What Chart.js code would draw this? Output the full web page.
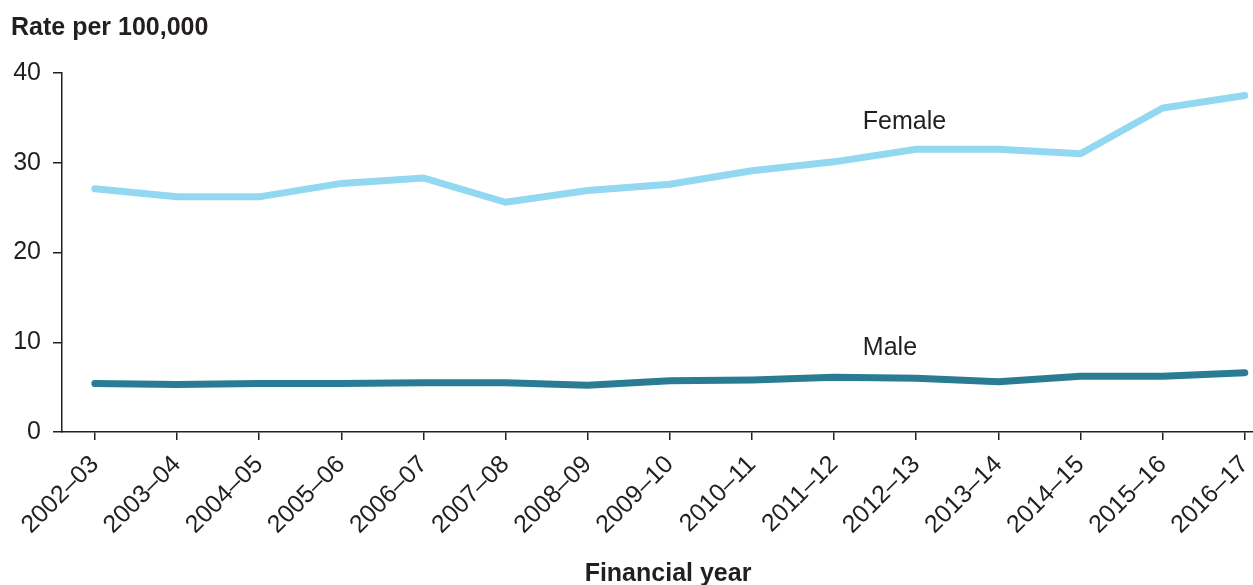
<!DOCTYPE html>
<html>
<head>
<meta charset="utf-8">
<script src="https://cdn.jsdelivr.net/npm/chart.js@4"></script>
<style>
  html, body { margin: 0; padding: 0; background: #fff; }
  #wrap { width: 1253px; height: 585px; }
</style>
</head>
<body>
<div id="wrap"><canvas id="chart" width="1253" height="585"></canvas></div>
<script>
const years = ["2002–03", "2003–04", "2004–05", "2005–06", "2006–07", "2007–08", "2008–09",
  "2009–10", "2010–11", "2011–12", "2012–13", "2013–14", "2014–15", "2015–16", "2016–17"];
const female = [27.1, 26.2, 26.2, 27.7, 28.3, 25.6, 26.9, 27.6, 29.1, 30.1, 31.5, 31.5, 31.0, 36.1, 37.5];
const male = [5.4, 5.3, 5.4, 5.4, 5.5, 5.5, 5.2, 5.7, 5.8, 6.1, 6.0, 5.6, 6.2, 6.2, 6.6];
const yTicks = [0, 10, 20, 30, 40];

const textColor = "#231f20";
const fontFamily = "'Liberation Sans', Arial, sans-serif";

const points = arr => arr.map((v, i) => ({ x: i, y: v }));

// draws the axis titles and the series labels
const annotations = {
  id: "annotations",
  afterDraw(chart) {
    const ctx = chart.ctx;
    const xs = chart.scales.x;
    const ys = chart.scales.y;
    ctx.save();
    ctx.fillStyle = textColor;
    ctx.textBaseline = "alphabetic";
    ctx.font = "bold 25px " + fontFamily;
    ctx.textAlign = "left";
    ctx.fillText("Rate per 100,000", 11, 35);
    ctx.textAlign = "center";
    ctx.fillText("Financial year", 668, 581);
    ctx.font = "25px " + fontFamily;
    ctx.textAlign = "left";
    ctx.fillText("Female", xs.getPixelForValue(9.35), ys.getPixelForValue(33.8));
    ctx.fillText("Male", xs.getPixelForValue(9.35), ys.getPixelForValue(8.6));
    ctx.restore();
  }
};

new Chart(document.getElementById("chart"), {
  type: "line",
  data: {
    datasets: [
      {
        label: "Female",
        data: points(female),
        borderColor: "#92d8f0",
        borderWidth: 7,
        borderCapStyle: "round",
        pointRadius: 0,
        tension: 0
      },
      {
        label: "Male",
        data: points(male),
        borderColor: "#2a7c93",
        borderWidth: 7,
        borderCapStyle: "round",
        pointRadius: 0,
        tension: 0
      }
    ]
  },
  options: {
    responsive: false,
    animation: false,
    layout: { padding: { top: 73, right: 0, bottom: 0, left: 0 } },
    plugins: { legend: { display: false }, tooltip: { enabled: false } },
    scales: {
      x: {
        type: "linear",
        min: -0.4,
        max: 14.1,
        afterFit(scale) {
          scale.height = 153;
          scale.paddingLeft = 0;
          scale.paddingRight = 0;
        },
        afterBuildTicks(scale) { scale.ticks = years.map((y, i) => ({ value: i })); },
        border: { color: textColor, width: 1.5 },
        grid: { drawOnChartArea: false, drawTicks: true, tickLength: 8, color: textColor, lineWidth: 1.5 },
        ticks: {
          autoSkip: false,
          maxRotation: 45,
          minRotation: 45,
          padding: 10,
          color: textColor,
          font: { family: fontFamily, size: 25 },
          callback: v => years[v]
        }
      },
      y: {
        min: 0,
        max: 40,
        afterFit(scale) { scale.width = 62; },
        afterBuildTicks(scale) { scale.ticks = yTicks.map(v => ({ value: v })); },
        border: { color: textColor, width: 1.5 },
        grid: { drawOnChartArea: false, drawTicks: true, tickLength: 9, color: textColor, lineWidth: 1.5 },
        ticks: {
          padding: 12,
          color: textColor,
          font: { family: fontFamily, size: 25 }
        }
      }
    }
  },
  plugins: [annotations]
});
</script>
</body>
</html>
